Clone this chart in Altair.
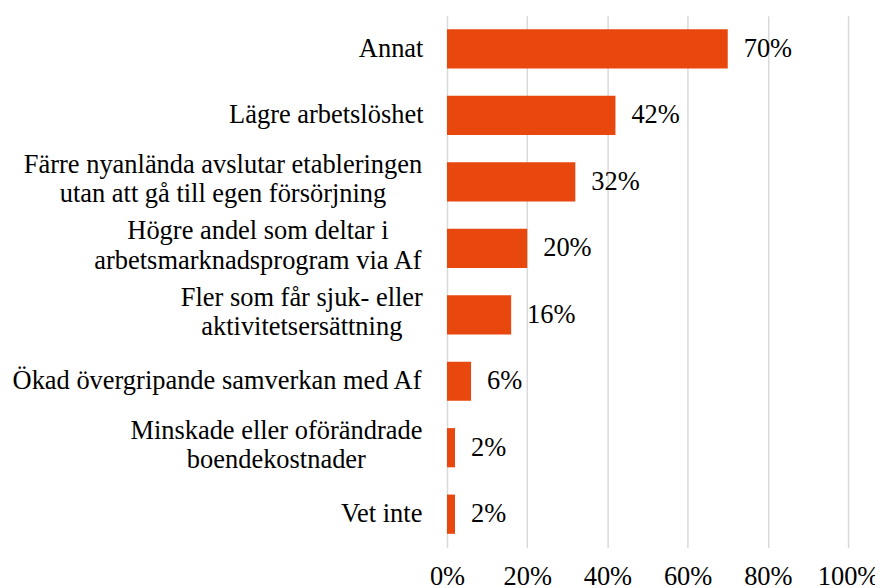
import json
import altair as alt
import pandas as pd

categories = [
    "Annat",
    "Lägre arbetslöshet",
    "Färre nyanlända avslutar etableringen\nutan att gå till egen försörjning",
    "Högre andel som deltar i\narbetsmarknadsprogram via Af",
    "Fler som får sjuk- eller\naktivitetsersättning",
    "Ökad övergripande samverkan med Af",
    "Minskade eller oförändrade\nboendekostnader",
    "Vet inte",
]
values = [0.70, 0.42, 0.32, 0.20, 0.16, 0.06, 0.02, 0.02]
x_ticks = [0, 0.2, 0.4, 0.6, 0.8, 1.0]

df = pd.DataFrame({"category": categories, "value": values})

FONT = "'Liberation Serif', 'Times New Roman', 'DejaVu Serif', serif"
FS = 26.5
COLOR = "#E8470E"

# per-label padding so that multi-line labels are centred and right-flushed
label_pad = [56.5, 121.5, 225, 190, 146, 231, 171.5, 66]
pad_cond = {
    "condition": [
        {"test": "datum.value === " + json.dumps(c, ensure_ascii=False), "value": p}
        for c, p in zip(categories, label_pad)
    ],
    "value": 60,
}
# lift two-line labels so the block is centred on the bar
offset_cond = {
    "condition": {"test": "indexof(datum.value, '\\n') >= 0", "value": -17},
    "value": 0,
}

y_enc = alt.Y(
    "category:N",
    sort=categories,
    scale=alt.Scale(paddingInner=0.41, paddingOuter=0.205),
    axis=alt.Axis(
        title=None,
        ticks=False,
        domain=False,
        labelAlign="center",
        labelBaseline="middle",
        labelPadding=pad_cond,
        labelOffset=offset_cond,
        labelExpr="split(datum.label, '\\n')",
        labelLineHeight=29.5,
        labelLimit=0,
    ),
)

x_enc = alt.X(
    "value:Q",
    scale=alt.Scale(domain=[0, 1]),
    axis=alt.Axis(
        title=None,
        values=x_ticks,
        format=".0%",
        ticks=False,
        domain=False,
        grid=True,
        gridColor="#d9d9d9",
        gridWidth=1.5,
        labelPadding=16,
        labelFlush=False,
    ),
)

bars = alt.Chart(df).mark_bar(color=COLOR).encode(x=x_enc, y=y_enc)
texts = alt.Chart(df).mark_text(
    align="left", baseline="middle", dx=16, font=FONT, fontSize=FS, color="#000000"
).encode(
    x="value:Q",
    y=alt.Y("category:N", sort=categories),
    text=alt.Text("value:Q", format=".0%"),
)

chart = (
    alt.layer(bars, texts)
    .properties(
        width=402,
        height=533,
        autosize=alt.AutoSizeParams(type="none"),
        padding={"left": 440, "top": 7, "right": 27, "bottom": 40},
        background="white",
    )
    .configure_view(stroke=None)
    .configure_axis(
        labelFont=FONT,
        labelFontSize=FS,
        labelColor="#000000",
    )
    .configure_text(font=FONT)
)

chart.save("out.html", embed_options={"renderer": "svg", "actions": False})
